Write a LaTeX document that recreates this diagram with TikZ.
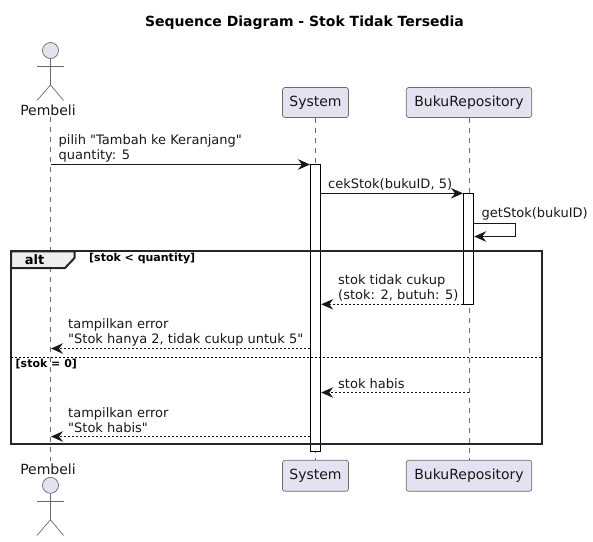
\documentclass[tikz,border=0pt]{standalone}
\usepackage{fontspec}
\setmainfont{DejaVu Sans}[Ligatures=TeXOff]
\usepackage{xcolor}
\usepackage{tikz}
\usetikzlibrary{arrows.meta}

\definecolor{partfill}{HTML}{E2E2F0}
\definecolor{inkdark}{HTML}{181818}
\definecolor{linegray}{HTML}{6A6A6A}
\definecolor{tabfill}{HTML}{EEEEEE}

\tikzset{
  partbox/.style={draw=linegray,line width=0.7pt,fill=partfill,rounded corners=2.5pt,
    inner sep=0pt,minimum height=30pt,text=inkdark,font=\fontsize{14}{16}\selectfont},
  actorname/.style={inner sep=0pt,text=inkdark,font=\fontsize{14}{16}\selectfont},
  actorhead/.style={circle,draw=linegray,line width=0.7pt,fill=partfill,inner sep=0pt,minimum size=16pt},
  actorline/.style={draw=linegray,line width=0.7pt},
  lifeline/.style={draw=linegray,line width=0.7pt,dash pattern=on 5pt off 5pt},
  actbar/.style={draw=black,line width=1pt,fill=white,inner sep=0pt,minimum width=10.4pt},
  msg/.style={draw=inkdark,line width=1pt,-{Stealth[length=12pt,width=10.5pt,inset=4pt,fill=inkdark]}},
  reply/.style={msg,dash pattern=on 2pt off 2pt},
  msgtext/.style={anchor=west,align=left,inner sep=0pt,text=inkdark,
    font=\fontsize{13}{15}\selectfont},
  guardtext/.style={anchor=west,inner sep=0pt,font=\bfseries\fontsize{11}{13}\selectfont},
  framebox/.style={draw=black!85,line width=2pt},
}

\begin{document}
\begin{tikzpicture}[x=1pt,y=-1pt]
\useasboundingbox (0,0) rectangle (593,541);

\node[font=\bfseries\fontsize{14}{16}\selectfont] (title) at (304.5,23) {Sequence Diagram - Stok Tidak Tersedia};

% participants
\node[actorname] (pembeli) at (48,110) {Pembeli};
\node[partbox,minimum width=66pt] (system) at (315.5,102.5) {System};
\node[partbox,minimum width=125.5pt] (repo) at (469,102.5) {BukuRepository};
\node[actorname] (pembeli-b) at (48,469) {Pembeli};
\node[partbox,minimum width=66pt,minimum height=31pt] (system-b) at (315.5,475.8) {System};
\node[partbox,minimum width=125.5pt,minimum height=31pt] (repo-b) at (469,475.8) {BukuRepository};

% actors
\node[actorhead] (head) at (50.5,50.5) {};
\draw[actorline] (head.south) -- ++(0,26) coordinate (hip);
\draw[actorline] (37,66) -- (63.5,66);
\draw[actorline] (37,100.5) -- (hip) -- (63.5,100.5);
\node[actorhead] (head-b) at (50.5,485.3) {};
\draw[actorline] (head-b.south) -- ++(0,26) coordinate (hip-b);
\draw[actorline] (37,501) -- (63.5,501);
\draw[actorline] (37,535.5) -- (hip-b) -- (63.5,535.5);

% lifelines
\coordinate (pembeli-top) at (50.5,117);
\coordinate (pembeli-bot) at (50.5,461);
\path[lifeline] (pembeli-top) -- (pembeli-bot);
\path[lifeline] (system) -- (system-b);
\path[lifeline] (repo) -- (repo-b);

% activations
\node[actbar,minimum height=287.2pt] (sysbar) at (315.5,308.1) {};
\node[actbar,minimum height=111pt] (repobar) at (468.5,248.8) {};

% messages
\coordinate (m1a) at (50.5,164.5);
\coordinate (m1b) at (310,164.5);
\coordinate (m2a) at (320.7,193.3);
\coordinate (m2b) at (463,193.3);
\coordinate (m3a) at (473.7,223.5);
\coordinate (m3b) at (515.3,223.5);
\coordinate (m3c) at (515.3,236.5);
\coordinate (m3d) at (474.2,236.5);
\coordinate (m4a) at (463.3,304.3);
\coordinate (m4b) at (321.2,304.3);
\coordinate (m5a) at (310.3,348.5);
\coordinate (m5b) at (51,348.5);
\coordinate (m6a) at (468.5,392.5);
\coordinate (m6b) at (321.2,392.5);
\coordinate (m7a) at (310.3,436.5);
\coordinate (m7b) at (51,436.5);

\path[msg] (m1a) -- (m1b);
\path[msg] (m2a) -- (m2b);
\path[msg] (m3a) -- (m3b) -- (m3c) -- (m3d);
\path[reply] (m4a) -- (m4b);
\path[reply] (m5a) -- (m5b);
\path[reply] (m6a) -- (m6b);
\path[reply] (m7a) -- (m7b);

\node[msgtext] (t1) at (58.5,148.5) {pilih "Tambah ke Keranjang"\\quantity: 5};
\node[msgtext] (t2) at (328,184.5) {cekStok(bukuID, 5)};
\node[msgtext] (t3) at (481.5,214) {getStok(bukuID)};
\node[msgtext] (t4) at (338,287.5) {stok tidak cukup\\(stok: 2, butuh: 5)};
\node[msgtext] (t5) at (68,332) {tampilkan error\\"Stok hanya 2, tidak cukup untuk 5"};
\node[msgtext] (t6) at (338,383.5) {stok habis};
\node[msgtext] (t7) at (68,420) {tampilkan error\\"Stok habis"};

% alt frame
\coordinate (tab-o) at (11,251.3);
\coordinate (tab-a) at (74.5,251.3);
\coordinate (tab-b) at (74.5,258);
\coordinate (tab-c) at (65,268);
\coordinate (tab-d) at (11,268);
\draw[framebox,fill=tabfill] (tab-o) -- (tab-a) -- (tab-b) -- (tab-c) -- (tab-d) -- cycle;
\node[framebox,minimum width=530.5pt,minimum height=192.9pt,inner sep=0pt] (frame) at (276.25,347.75) {};
\node[font=\bfseries\fontsize{13}{15}\selectfont,inner sep=0pt] (alt) at (34.5,259.5) {alt};
\node[guardtext] (g1) at (89,259) {[stok < quantity]};
\coordinate (sep-a) at (11,357.5);
\coordinate (sep-b) at (541.5,357.5);
\draw[line width=0.8pt,dash pattern=on 2pt off 2pt] (sep-a) -- (sep-b);
\node[guardtext] (g2) at (15.5,364.5) {[stok = 0]};

\end{tikzpicture}
\end{document}
